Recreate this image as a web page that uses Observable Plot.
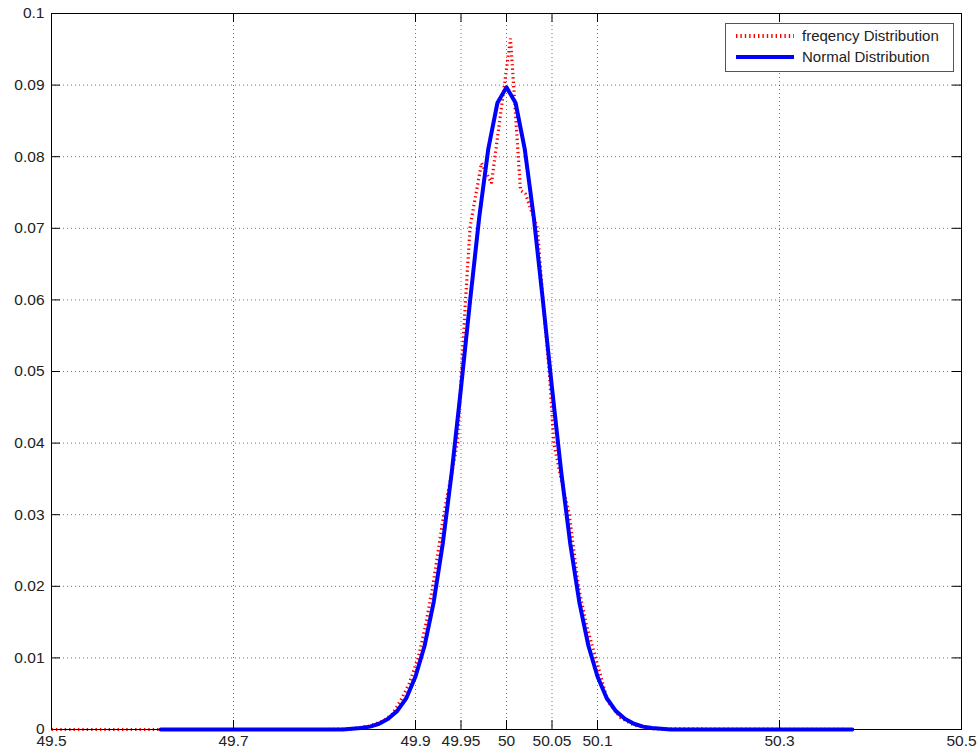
<!DOCTYPE html>
<html>
<head>
<meta charset="utf-8">
<script src="https://cdn.jsdelivr.net/npm/d3@7"></script>
<script src="https://cdn.jsdelivr.net/npm/@observablehq/plot@0.6"></script>
<style>
  html, body { margin: 0; padding: 0; background: #fff; }
  #chart { position: relative; width: 980px; height: 756px; }
</style>
</head>
<body>
<div id="chart"></div>
<script>
// ---- tick values and labels ----
const xTicks = [49.5, 49.7, 49.9, 49.95, 50, 50.05, 50.1, 50.3, 50.5];
const xTickLabels = ["49.5", "49.7", "49.9", "49.95", "50", "50.05", "50.1", "50.3", "50.5"];
const yTicks = [0, 0.01, 0.02, 0.03, 0.04, 0.05, 0.06, 0.07, 0.08, 0.09, 0.1];
const yTickLabels = ["0", "0.01", "0.02", "0.03", "0.04", "0.05", "0.06", "0.07", "0.08", "0.09", "0.1"];

// ---- series: frequency distribution (red dotted) ----
const freqX = [49.50, 49.62, 49.80, 49.83, 49.85, 49.865, 49.875, 49.8835, 49.893, 49.903,
               49.911, 49.919, 49.925, 49.931, 49.9385, 49.946, 49.9487, 49.9505, 49.955, 49.960,
               49.9725, 49.9835, 50.0044, 50.0154, 50.0209, 50.034, 50.040, 50.047, 50.052, 50.060,
               50.069, 50.079, 50.088, 50.098, 50.111, 50.125, 50.14, 50.16, 50.38];
const freqY = [0, 0, 0, 0.0001, 0.0005, 0.0012, 0.0022, 0.0040, 0.0064, 0.0100,
               0.0145, 0.0200, 0.0250, 0.0300, 0.0350, 0.0400, 0.0459, 0.0500, 0.0600, 0.0702,
               0.0791, 0.0763, 0.0965, 0.0753, 0.0748, 0.0700, 0.0600, 0.0500, 0.0400, 0.0350,
               0.0300, 0.0200, 0.0145, 0.0100, 0.0040, 0.0017, 0.0006, 0.0001, 0];

// ---- series: normal distribution (blue solid) ----
const normalX = [49.62, 49.80, 49.82, 49.83, 49.84, 49.85, 49.86, 49.87, 49.88, 49.89,
                 49.90, 49.91, 49.92, 49.93, 49.94, 49.95, 49.96, 49.97, 49.98, 49.99,
                 50.00, 50.01, 50.02, 50.03, 50.04, 50.05, 50.06, 50.07, 50.08, 50.09,
                 50.10, 50.11, 50.12, 50.13, 50.14, 50.15, 50.16, 50.17, 50.18, 50.20, 50.38];
const normalY = [0, 0, 0, 0.0001, 0.0002, 0.0004, 0.0008, 0.0015, 0.0026, 0.0044,
                 0.0074, 0.0117, 0.0178, 0.0260, 0.0361, 0.0477, 0.0599, 0.0715, 0.0811, 0.0875,
                 0.0897, 0.0875, 0.0811, 0.0715, 0.0599, 0.0477, 0.0361, 0.0260, 0.0178, 0.0117,
                 0.0074, 0.0044, 0.0026, 0.0015, 0.0008, 0.0004, 0.0002, 0.0001, 0, 0, 0];

const seriesNames = ["freqency Distribution", "Normal Distribution"];
const seriesColors = ["#ff0000", "#0000ff"];

const freqData = freqX.map((x, i) => ({x, y: freqY[i]}));
const normalData = normalX.map((x, i) => ({x, y: normalY[i]}));

// ---- layout ----
const W = 980, H = 756;
const mL = 51, mR = 19, mT = 13, mB = 27;
const frameW = W - mL - mR, frameH = H - mT - mB;
const tickLen = 9;
const font = "'Liberation Sans', Arial, Helvetica, sans-serif";

const gridStyle = {stroke: "#000", strokeOpacity: 0.55, strokeDasharray: "1,3", strokeWidth: 1};

const plot = Plot.plot({
  width: W,
  height: H,
  marginLeft: mL,
  marginRight: mR,
  marginTop: mT,
  marginBottom: mB,
  x: {domain: [49.5, 50.5]},
  y: {domain: [0, 0.1]},
  style: {fontFamily: font, fontSize: "15.5px", color: "#222", background: "#fff"},
  marks: [
    Plot.gridX({ticks: xTicks, ...gridStyle}),
    Plot.gridY({ticks: yTicks, ...gridStyle}),
    Plot.line(freqData, {x: "x", y: "y", stroke: seriesColors[0], strokeWidth: 3.2,
      strokeDasharray: "1.4,3", strokeLinecap: "butt", strokeLinejoin: "miter"}),
    Plot.line(normalData, {x: "x", y: "y", stroke: seriesColors[1], strokeWidth: 4}),
    // inward ticks (bottom, top, left, right)
    Plot.tickX(xTicks, {x: d => d, stroke: "#000", insetTop: frameH - tickLen}),
    Plot.tickX(xTicks, {x: d => d, stroke: "#000", insetBottom: frameH - tickLen}),
    Plot.tickY(yTicks, {y: d => d, stroke: "#000", insetRight: frameW - tickLen}),
    Plot.tickY(yTicks, {y: d => d, stroke: "#000", insetLeft: frameW - tickLen}),
    Plot.axisX({ticks: xTicks, tickSize: 0, tickPadding: 5, label: null, fontSize: 15.5,
      tickFormat: d => xTickLabels[xTicks.indexOf(d)]}),
    Plot.axisY({ticks: yTicks, tickSize: 0, tickPadding: 7, label: null, fontSize: 15.5,
      tickFormat: d => yTickLabels[yTicks.indexOf(d)]}),
    Plot.frame({stroke: "#000", strokeWidth: 1})
  ]
});

document.getElementById("chart").appendChild(plot);

// ---- legend (inside top-right of the axes) ----
const svg = d3.select(plot);
const lg = svg.append("g")
  .attr("font-family", font)
  .attr("font-size", "15px")
  .attr("text-anchor", "start");
const box = {x: 725, y: 23, w: 228, h: 48};
lg.append("rect").attr("x", box.x + 0.5).attr("y", box.y + 0.5)
  .attr("width", box.w).attr("height", box.h)
  .attr("fill", "#fff").attr("stroke", "#555").attr("stroke-width", 1);
const rowsY = [36, 57];
seriesNames.forEach((name, i) => {
  const line = lg.append("line")
    .attr("x1", 736).attr("x2", 794)
    .attr("y1", rowsY[i]).attr("y2", rowsY[i])
    .attr("stroke", seriesColors[i]);
  if (i === 0) {
    line.attr("stroke-width", 4).attr("stroke-dasharray", "1.4,3");
  } else {
    line.attr("stroke-width", 4);
  }
  lg.append("text")
    .attr("x", 802).attr("y", rowsY[i]).attr("dy", "0.35em")
    .attr("text-anchor", "start")
    .attr("fill", "#222")
    .text(name);
});
</script>
</body>
</html>
